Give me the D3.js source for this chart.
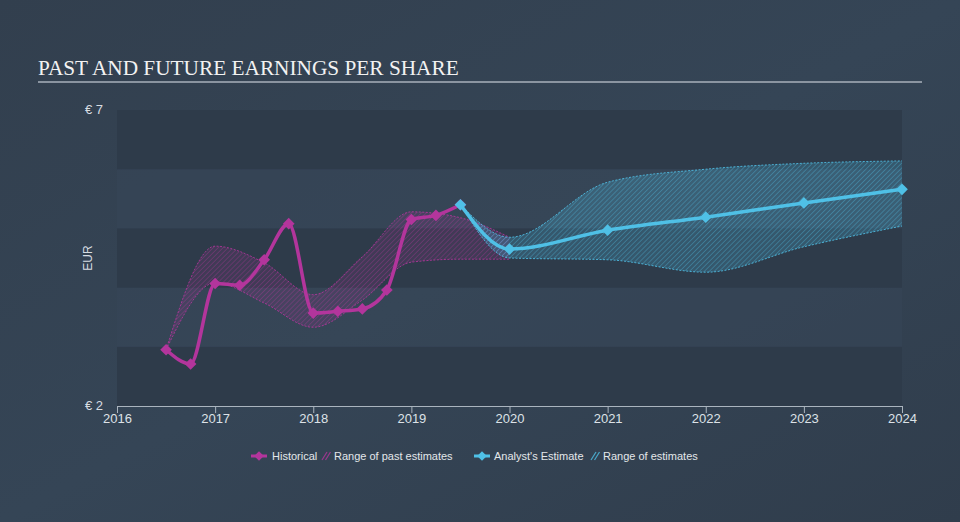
<!DOCTYPE html>
<html><head><meta charset="utf-8">
<script src="https://cdn.jsdelivr.net/npm/d3@7"></script>
<style>
html,body{margin:0;padding:0;background:#344353;}
svg{display:block;}
</style></head>
<body><svg id="c" width="960" height="522"></svg>
<script>
// ---- data ----
const histYears = [2016.5, 2016.75, 2017.0, 2017.25, 2017.5, 2017.75, 2018.0, 2018.25, 2018.5, 2018.75, 2019.0, 2019.25, 2019.5];
const histEPS   = [2.95, 2.71, 4.07, 4.04, 4.47, 5.08, 3.57, 3.60, 3.64, 3.96, 5.15, 5.22, 5.40];
const pastRangeYears = [2016.5, 2017.0, 2017.5, 2018.0, 2018.5, 2019.0, 2019.5, 2020.0];
const pastRangeLow   = [2.95, 4.08, 3.74, 3.33, 3.79, 4.43, 4.48, 4.48];
const pastRangeHigh  = [2.95, 4.70, 4.42, 3.88, 4.52, 5.28, 5.18, 4.85];
const estYears = [2019.5, 2020, 2021, 2022, 2023, 2024];
const estEPS   = [5.40, 4.65, 4.97, 5.19, 5.43, 5.66];
const estRangeLow  = [5.40, 4.50, 4.47, 4.26, 4.69, 5.04];
const estRangeHigh = [5.40, 4.85, 5.78, 6.00, 6.10, 6.14];
const xTicks = [2016, 2017, 2018, 2019, 2020, 2021, 2022, 2023, 2024];
const yTicks = [2, 7];
const title = "PAST AND FUTURE EARNINGS PER SHARE";
const legendItems = ["Historical", "Range of past estimates", "Analyst's Estimate", "Range of estimates"];

// ---- layout ----
const magenta = "#b3359c", cyan = "#4fc0e6";
const svg = d3.select("#c");
const x = d3.scaleLinear().domain([2016, 2024]).range([117, 902]);
const y = d3.scaleLinear().domain([2, 7]).range([406, 110]);

const defs = svg.append("defs");
const bg = defs.append("linearGradient").attr("id","bg").attr("x1","0").attr("y1","0").attr("x2","1").attr("y2","1");
bg.append("stop").attr("offset","0").attr("stop-color","#323f4e");
bg.append("stop").attr("offset","0.5").attr("stop-color","#354556");
bg.append("stop").attr("offset","1").attr("stop-color","#303d4c");
svg.append("rect").attr("width",960).attr("height",522).attr("fill","url(#bg)");

function hatch(id, color, op, fillOp){
  const p = defs.append("pattern").attr("id",id).attr("patternUnits","userSpaceOnUse")
    .attr("width",3.5).attr("height",3.5).attr("patternTransform","rotate(45)");
  p.append("rect").attr("width",3.5).attr("height",3.5).attr("fill",color).attr("opacity",fillOp);
  p.append("line").attr("x1",0).attr("y1",0).attr("x2",0).attr("y2",3.5)
    .attr("stroke",color).attr("stroke-width",1.1).attr("opacity",op);
}
hatch("hp", magenta, 0.55, 0.14);
hatch("hf", cyan, 0.55, 0.22);

// bands
const bandVals = d3.range(2, 7);
svg.append("g").selectAll("rect").data(bandVals).join("rect")
  .attr("x", x(2016)).attr("width", x(2024)-x(2016))
  .attr("y", d => y(d+1)).attr("height", d => y(d)-y(d+1))
  .attr("fill", (d,i) => i%2===0 ? "#2e3b4a" : "#374859")
  .attr("opacity", (d,i)=> i%2===0 ? 1 : 0.45);

// title
svg.append("text").attr("x",38).attr("y",75).text(title)
  .attr("font-family","'Liberation Serif','Times New Roman',serif").attr("font-size",21.3)
  .attr("fill","#f2f2f2");
svg.append("line").attr("x1",38).attr("x2",922).attr("y1",82).attr("y2",82)
  .attr("stroke","#a9b1bb").attr("stroke-width",1.5);

// y labels
const labFont = "'Liberation Sans Narrow','Arial Narrow','Liberation Sans',Arial,sans-serif";
svg.append("g").selectAll("text").data(yTicks).join("text")
  .attr("x",103).attr("y",d=>y(d)+4).attr("text-anchor","end")
  .attr("font-family",labFont).attr("font-size",13).attr("fill","#d8dde2")
  .text(d=>"€ "+d);
svg.append("text").attr("transform","translate(92,258) rotate(-90)").attr("text-anchor","middle")
  .attr("font-family",labFont).attr("font-size",12).attr("fill","#d8dde2").text("EUR");

// x axis
const xAxis = d3.axisBottom(x).tickValues(xTicks).tickFormat(d3.format("d")).tickSize(7).tickSizeOuter(0);
const gx = svg.append("g").attr("transform",`translate(0,${y(2)})`).call(xAxis);
gx.select(".domain").attr("stroke","#aab4be").attr("stroke-width",1.2);
gx.selectAll(".tick line").attr("stroke","#aab4be");
gx.selectAll(".tick text").attr("fill","#dde2e7").attr("font-family",labFont).attr("font-size",13).attr("dy","0.55em");

// areas
const areaGen = d3.area().curve(d3.curveMonotoneX).x(d=>x(d[0])).y0(d=>y(d[1])).y1(d=>y(d[2]));
const lineLo = d3.line().curve(d3.curveMonotoneX).x(d=>x(d[0])).y(d=>y(d[1]));
const lineHi = d3.line().curve(d3.curveMonotoneX).x(d=>x(d[0])).y(d=>y(d[2]));
function band(years, lo, hi, color, pat){
  const data = years.map((t,i)=>[t, lo[i], hi[i]]);
  svg.append("path").datum(data).attr("d",areaGen).attr("fill",`url(#${pat})`);
  [lineLo, lineHi].forEach(g=>svg.append("path").datum(data).attr("d",g)
    .attr("fill","none").attr("stroke",color).attr("stroke-width",1).attr("stroke-dasharray","2,1.5").attr("opacity",0.85));
}
band(pastRangeYears, pastRangeLow, pastRangeHigh, magenta, "hp");
band(estYears, estRangeLow, estRangeHigh, cyan, "hf");

// lines
const lineGen = d3.line().curve(d3.curveMonotoneX).x(d=>x(d[0])).y(d=>y(d[1]));
const diamond = d3.symbol().type(d3.symbolSquare).size(68);
function series(years, vals, color){
  const data = years.map((t,i)=>[t, vals[i]]);
  svg.append("path").datum(data).attr("d",lineGen).attr("fill","none")
    .attr("stroke",color).attr("stroke-width",3.5).attr("stroke-linejoin","round");
  svg.append("g").selectAll("path").data(data).join("path")
    .attr("transform",d=>`translate(${x(d[0])},${y(d[1])}) rotate(45)`).attr("d",diamond).attr("fill",color);
}
series(histYears, histEPS, magenta);
series(estYears, estEPS, cyan);

// legend
const lg = svg.append("g").attr("font-family","'Liberation Sans',Arial,sans-serif").attr("font-size",11).attr("fill","#e3e7ea");
function lineIcon(cx, color){
  lg.append("line").attr("x1",cx-8).attr("x2",cx+8).attr("y1",456).attr("y2",456).attr("stroke",color).attr("stroke-width",3);
  lg.append("path").attr("transform",`translate(${cx},456) rotate(45)`).attr("d",d3.symbol().type(d3.symbolSquare).size(45)).attr("fill",color);
}
function hatchIcon(x0, color){
  [0,3.5].forEach(o=>lg.append("line").attr("x1",x0+o).attr("y1",460).attr("x2",x0+o+5).attr("y2",452)
    .attr("stroke",color).attr("stroke-width",1.3).attr("opacity",0.8));
}
lineIcon(259, magenta);
lg.append("text").attr("x",272).attr("y",460).text(legendItems[0]);
hatchIcon(322, magenta);
lg.append("text").attr("x",334).attr("y",460).text(legendItems[1]);
lineIcon(482, cyan);
lg.append("text").attr("x",494).attr("y",460).text(legendItems[2]);
hatchIcon(591, cyan);
lg.append("text").attr("x",603).attr("y",460).text(legendItems[3]);
</script></body></html>
